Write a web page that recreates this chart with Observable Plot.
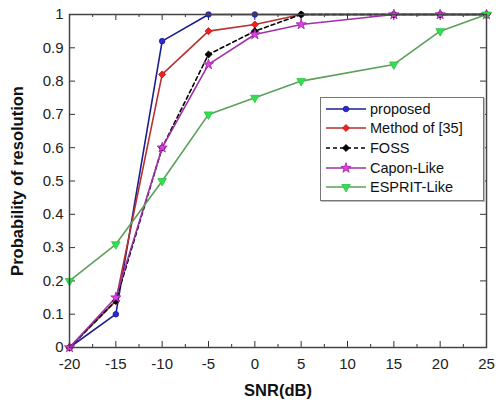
<!DOCTYPE html>
<html>
<head>
<meta charset="utf-8">
<script src="https://cdn.jsdelivr.net/npm/d3@7"></script>
<script src="https://cdn.jsdelivr.net/npm/@observablehq/plot@0.6"></script>
<style>
  body { margin: 0; background: #fff; }
  #wrap { position: relative; width: 496px; height: 408px; font-family: "Liberation Sans", Arial, sans-serif; }
  #legend {
    position: absolute; left: 320px; top: 97px; width: 164px; height: 104px;
    border: 1px solid #777; background: #fff; box-sizing: border-box;
    box-shadow: 1px 1px 0 #bbb; padding-top: 1px;
  }
  .row { display: flex; align-items: center; height: 19.6px; font-size: 14.5px; color: #111; }
  .row svg { margin-left: 4px; margin-right: 3px; }
</style>
</head>
<body>
<div id="wrap"></div>
<script>
// SNR grid (dB) and probability of resolution for each method
const snr = [-20, -15, -10, -5, 0, 5, 15, 20, 25];
const proposed = [0, 0.10, 0.92, 1, 1, 1, 1, 1, 1];
const method35 = [0, 0.14, 0.82, 0.95, 0.97, 1, 1, 1, 1];
const foss = [0, 0.14, 0.60, 0.88, 0.95, 1, 1, 1, 1];
const capon = [0, 0.15, 0.60, 0.85, 0.94, 0.97, 1, 1, 1];
const esprit = [0.20, 0.31, 0.50, 0.70, 0.75, 0.80, 0.85, 0.95, 1];

const seriesNames = ["proposed", "Method of [35]", "FOSS", "Capon-Like", "ESPRIT-Like"];
const seriesValues = [proposed, method35, foss, capon, esprit];

const xTicks = [-20, -15, -10, -5, 0, 5, 10, 15, 20, 25];
const xMinor = [-17.5, -12.5, -7.5, -2.5, 2.5, 7.5, 12.5, 17.5, 22.5];
const yTicks = [0, 0.1, 0.2, 0.3, 0.4, 0.5, 0.6, 0.7, 0.8, 0.9, 1];

// styling per series
const styles = [
  {line: "#1e1e90", fill: "#2a2ad8", stroke: "#1a1a9a", symbol: "circle", r: 2.8, dash: null, rotate: 0},
  {line: "#b83030", fill: "#f02020", stroke: "#c01818", symbol: "diamond2", r: 3.2, dash: null, rotate: 0},
  {line: "#000000", fill: "#000000", stroke: "#000000", symbol: "diamond2", r: 3.2, dash: "4,3", rotate: 0},
  {line: "#a030a8", fill: "#e040e0", stroke: "#a020a8", symbol: "star", r: 3.2, dash: null, rotate: 0},
  {line: "#5aa05a", fill: "#30e050", stroke: "#30c040", symbol: "triangle", r: 3.2, dash: null, rotate: 180}
];

const rows = seriesNames.flatMap((name, i) =>
  snr.map((s, j) => ({series: name, idx: i, snr: s, p: seriesValues[i][j]})));

const lineMarks = seriesNames.map((name, i) =>
  Plot.line(rows.filter(d => d.idx === i), {
    x: "snr", y: "p", stroke: styles[i].line, strokeWidth: 1.6,
    strokeDasharray: styles[i].dash
  }));
const dotMarks = seriesNames.map((name, i) =>
  Plot.dot(rows.filter(d => d.idx === i), {
    x: "snr", y: "p", symbol: () => styles[i].symbol, r: styles[i].r,
    fill: styles[i].fill, stroke: styles[i].stroke, strokeWidth: 0.8,
    rotate: styles[i].rotate
  }));

const chart = Plot.plot({
  width: 496,
  height: 408,
  marginLeft: 69,
  marginRight: 10,
  marginTop: 14,
  marginBottom: 61,
  style: {fontFamily: "Liberation Sans, Arial, sans-serif", fontSize: "15px", color: "#222"},
  x: {domain: [-20, 25]},
  y: {domain: [0, 1]},
  symbol: {type: "identity"},
  marks: [
    Plot.axisX({ticks: xTicks, tickSize: 0, tickPadding: 11, label: null, tickFormat: d => String(d)}),
    Plot.axisY({ticks: yTicks, tickSize: 0, tickPadding: 6, label: null, tickFormat: d => String(+d.toFixed(1))}),
    // inward tick marks on all four sides
    Plot.ruleX(xTicks, {x: d => d, y1: 0, y2: 0.018, stroke: "#333"}),
    Plot.ruleX(xTicks, {x: d => d, y1: 1, y2: 0.982, stroke: "#333"}),
    Plot.ruleX(xMinor, {x: d => d, y1: 0, y2: 0.009, stroke: "#333"}),
    Plot.ruleX(xMinor, {x: d => d, y1: 1, y2: 0.991, stroke: "#333"}),
    Plot.ruleY(yTicks, {y: d => d, x1: -20, x2: -19.35, stroke: "#333"}),
    Plot.ruleY(yTicks, {y: d => d, x1: 25, x2: 24.35, stroke: "#333"}),
    ...lineMarks,
    ...dotMarks,
    Plot.frame({stroke: "#444", strokeWidth: 1.5}),
    Plot.text(["SNR(dB)"], {frameAnchor: "bottom", dy: 48, fontWeight: "bold", fontSize: 16.5, text: d => d, fill: "#111"}),
    Plot.text(["Probability of resolution"], {frameAnchor: "left", dx: -52, rotate: -90, textAnchor: "middle", fontWeight: "bold", fontSize: 16.5, text: d => d, fill: "#111"})
  ]
});

const wrap = document.getElementById("wrap");
wrap.appendChild(chart);

// legend drawn inside the plot area
const legend = document.createElement("div");
legend.id = "legend";
const symbolPaths = {circle: d3.symbolCircle, diamond2: d3.symbolDiamond2, star: d3.symbolStar, triangle: d3.symbolTriangle};
seriesNames.forEach((name, i) => {
  const st = styles[i];
  const row = document.createElement("div");
  row.className = "row";
  const path = d3.symbol(symbolPaths[st.symbol], Math.PI * st.r * st.r)();
  row.innerHTML = `<svg width="42" height="12">
    <line x1="1" x2="41" y1="6" y2="6" stroke="${st.line}" stroke-width="1.6" ${st.dash ? `stroke-dasharray="${st.dash}"` : ""}/>
    <path d="${path}" transform="translate(21,6) rotate(${st.rotate})" fill="${st.fill}" stroke="${st.stroke}" stroke-width="0.8"/>
  </svg><span>${name}</span>`;
  legend.appendChild(row);
});
wrap.appendChild(legend);
</script>
</body>
</html>
